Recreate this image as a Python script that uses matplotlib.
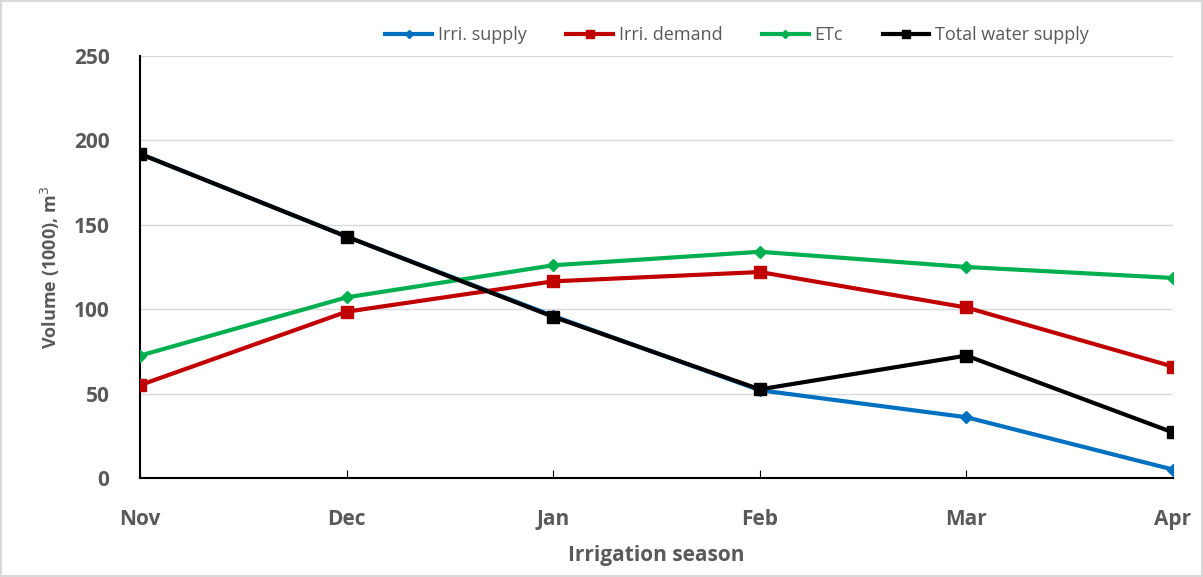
import numpy as np
import matplotlib
matplotlib.use("Agg")
import matplotlib.pyplot as plt
from matplotlib.patches import Rectangle

months = ['Nov', 'Dec', 'Jan', 'Feb', 'Mar', 'Apr']
irri_supply = [192, 143, 96, 52, 36, 5]
irri_demand = [55, 98.5, 116.5, 122, 101, 66]
etc = [72.5, 107, 126, 134, 125, 118.5]
total_supply = [192, 143, 95.5, 52.5, 72.5, 27]

plt.rcParams['font.family'] = ['Open Sans', 'DejaVu Sans']
grey = '#595959'

fig = plt.figure(figsize=(12.03, 5.77), dpi=100)
ax = fig.add_axes([0.1164, 0.1716, 0.8586, 0.7314])

x = np.arange(len(months))
ax.plot(x, irri_supply, color='#0070C0', lw=3, marker='D', ms=6, label='Irri. supply', zorder=3)
ax.plot(x, irri_demand, color='#C00000', lw=3, marker='s', ms=8, label='Irri. demand', zorder=3)
ax.plot(x, etc, color='#00B050', lw=3, marker='D', ms=6, label='ETc', zorder=3)
ax.plot(x, total_supply, color='black', lw=3, marker='s', ms=8, label='Total water supply', zorder=4)

ax.set_xlim(0, 5)
ax.set_ylim(0, 250)
ax.set_yticks(range(0, 251, 50))
ax.set_xticks(x)
ax.set_xticklabels(months)
ax.grid(axis='y', color='#D9D9D9', lw=1)
ax.set_axisbelow(True)
for s in ['top', 'right']:
    ax.spines[s].set_visible(False)
for s in ['left', 'bottom']:
    ax.spines[s].set_color('black')
    ax.spines[s].set_linewidth(1.5)
ax.tick_params(axis='x', direction='in', length=6, pad=22, labelsize=15, labelcolor=grey)
ax.tick_params(axis='y', direction='out', length=0, pad=22, labelsize=15, labelcolor=grey)
for lab in ax.get_xticklabels() + ax.get_yticklabels():
    lab.set_fontweight('bold')

ax.set_xlabel('Irrigation season', fontsize=15, fontweight='bold', color=grey, labelpad=11)
ax.set_ylabel('Volume (1000), m$^3$', fontsize=13, fontweight='bold', color=grey, labelpad=8)

ax.legend(loc='center', bbox_to_anchor=(0.578, 1.05), ncol=4, frameon=False,
          fontsize=13, labelcolor=grey, handlelength=2.6, handletextpad=0.3,
          columnspacing=2.2, markerscale=0.7)

fig.patches.append(Rectangle((0.001, 0.002), 0.998, 0.996, transform=fig.transFigure,
                             fill=False, edgecolor='#D9D9D9', lw=1.5))

fig.savefig('out.png', dpi=100)
